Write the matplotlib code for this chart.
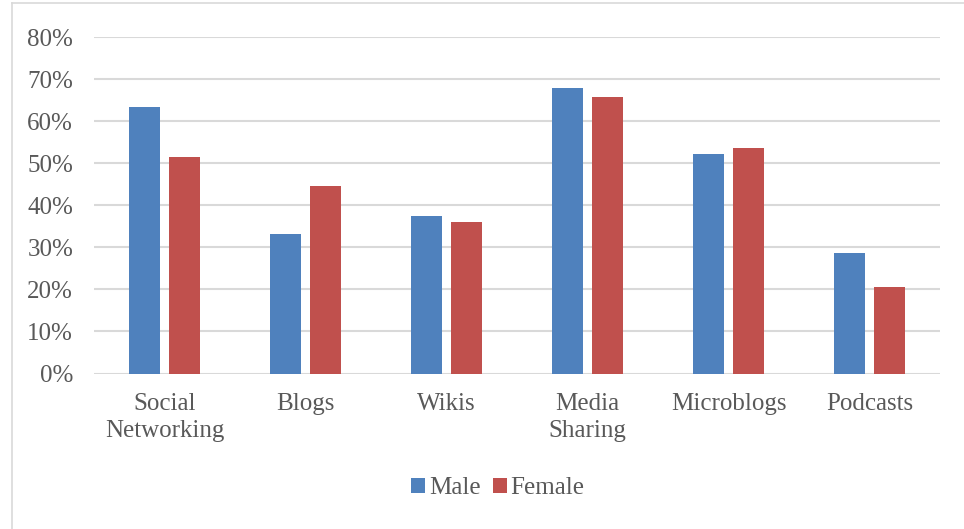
import numpy as np
import matplotlib.pyplot as plt
from matplotlib.lines import Line2D

# Data
categories = ["Social\nNetworking", "Blogs", "Wikis", "Media\nSharing", "Microblogs", "Podcasts"]
male = [63.4, 33.1, 37.5, 67.9, 52.1, 28.7]
female = [51.5, 44.6, 36.0, 65.7, 53.7, 20.5]
yticks = [0, 10, 20, 30, 40, 50, 60, 70, 80]

plt.rcParams["font.family"] = ["Liberation Serif", "DejaVu Serif"]
text_color = "#595959"

fig = plt.figure(figsize=(9.64, 5.29), dpi=100)
ax = fig.add_axes([94 / 964, 1 - 373.5 / 529, 846 / 964, 336.5 / 529])

x = np.arange(len(categories))
w = 0.22
ax.bar(x - 0.139, male, w, color="#4f81bd", label="Male", zorder=3)
ax.bar(x + 0.139, female, w, color="#c0504d", label="Female", zorder=3)

ax.set_xlim(-0.5, len(categories) - 0.5)
ax.set_ylim(0, 80)
ax.set_yticks(yticks)
ax.set_yticklabels([f"{t}%" for t in yticks])
ax.set_xticks(x)
ax.set_xticklabels(categories, linespacing=1.3)
ax.tick_params(axis="both", length=0, labelsize=18, colors=text_color)
ax.tick_params(axis="y", pad=15)
ax.tick_params(axis="x", pad=14)
ax.grid(axis="y", color="#d9d9d9", linewidth=1.5, zorder=0)
for s in ax.spines.values():
    s.set_visible(False)

leg = fig.legend(loc="center", bbox_to_anchor=(498 / 964, 1 - 488 / 529), ncol=2,
                 frameon=False, fontsize=18, handlelength=0.55, handleheight=0.55,
                 handletextpad=0.15, columnspacing=0.5)
for t in leg.get_texts():
    t.set_color(text_color)

# chart border (left and top edges visible, rest cropped)
bx, by = 11.5 / 964, 1 - 2.5 / 529
fig.lines.append(Line2D([bx, bx], [0, by], transform=fig.transFigure,
                        color="#d9d9d9", linewidth=1.2))
fig.lines.append(Line2D([bx, 1], [by, by], transform=fig.transFigure,
                        color="#d9d9d9", linewidth=1.2))

fig.savefig("out.png", dpi=100)
